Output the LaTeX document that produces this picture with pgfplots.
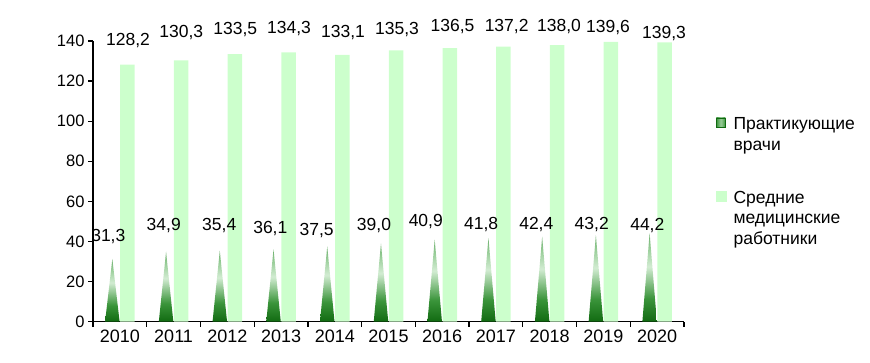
\documentclass[border=0pt]{standalone}
\usepackage{pgfplots}
\pgfplotsset{compat=1.18}
\usepackage{fontspec}
\setmainfont{Liberation Sans}
\definecolor{barg}{HTML}{CCFFCC}
\definecolor{tgA}{HTML}{116A11}
\definecolor{tgB}{HTML}{3A943A}
\definecolor{tgC}{HTML}{D2ECD2}
\definecolor{tgD}{HTML}{9CCF9C}
\definecolor{tgE}{HTML}{6AAE6A}
\pgfdeclareverticalshading{cone}{100bp}{color(0bp)=(tgA); color(25bp)=(tgA); color(38bp)=(tgB); color(56bp)=(tgC); color(66bp)=(tgD); color(75bp)=(tgE); color(100bp)=(tgE)}
\pgfdeclarehorizontalshading{legsq}{100bp}{color(0bp)=(tgB); color(25bp)=(tgB); color(50bp)=(tgD); color(75bp)=(tgB); color(100bp)=(tgB)}
\newcommand{\lf}{\fontsize{17.5bp}{21bp}\selectfont}
\newcommand{\legf}{\fontsize{17.5bp}{22bp}\selectfont}
\pgfplotstableread{
x y lab
0.151 137.7 128,2
1.143 141.8 130,3
2.148 143.0 133,5
3.148 143.6 134,3
4.153 141.8 133,1
5.158 143.0 135,3
6.191 144.6 136,5
7.199 144.6 137,2
8.173 144.6 138,0
9.085 144.3 139,6
10.127 141.3 139,3
}\barlabels
\pgfplotstableread{
x y lab
-0.215 39.9 31,3
0.816 45.7 34,9
1.849 45.7 35,4
2.800 44.1 36,1
3.663 42.9 37,5
4.730 45.7 39,0
5.694 47.4 40,9
6.725 46.1 41,8
7.751 46.1 42,4
8.783 46.1 43,2
9.817 45.7 44,2
}\trilabels
\begin{document}
\begin{tikzpicture}
\useasboundingbox (0,0) rectangle (870bp,363bp);
\begin{axis}[
  at={(93bp,41.3bp)}, anchor=south west,
  scale only axis, width=591bp, height=280.7bp,
  xmin=-0.5, xmax=10.5, ymin=0, ymax=140,
  clip=false,
  axis x line*=bottom, axis y line*=left,
  axis line style={-, line width=1.6bp, black},
  tick align=outside,
  major tick length=5bp, minor tick length=5bp,
  tick style={line width=1.3bp, black},
  xtick={0,...,10},
  xticklabels={2010,2011,2012,2013,2014,2015,2016,2017,2018,2019,2020},
  minor xtick={-0.5,0.5,...,10.5},
  major x tick style={draw=none},
  ytick={0,20,...,140},
  /pgf/number format/assume math mode=true,
  xticklabel style={font=\fontsize{18bp}{21bp}\selectfont},
  yticklabel style={font=\fontsize{16.5bp}{20bp}\selectfont},
  legend style={at={(1.0541,0.747)}, anchor=north west, draw=none, fill=none,
    inner sep=0pt, outer sep=0pt, column sep=5bp, row sep=0pt,
    font=\legf, cells={anchor=west, inner sep=0pt}},
]
% Средние медицинские работники (bars)
\addplot[ybar, fill=barg, draw=none, bar width=0.27, bar shift=0.14, forget plot]
  coordinates {(0,128.2) (1,130.3) (2,133.5) (3,134.3) (4,133.1) (5,135.3) (6,136.5) (7,137.2) (8,138.0) (9,139.6) (10,139.3)};
% Практикующие врачи (cones)
\addplot[draw=none, shade, shading=cone, forget plot] coordinates {(-0.275,0) (-0.14,31.3) (-0.005,0)} \closedcycle;
\addplot[draw=none, shade, shading=cone, forget plot] coordinates {(0.725,0) (0.86,34.9) (0.995,0)} \closedcycle;
\addplot[draw=none, shade, shading=cone, forget plot] coordinates {(1.725,0) (1.86,35.4) (1.995,0)} \closedcycle;
\addplot[draw=none, shade, shading=cone, forget plot] coordinates {(2.725,0) (2.86,36.1) (2.995,0)} \closedcycle;
\addplot[draw=none, shade, shading=cone, forget plot] coordinates {(3.725,0) (3.86,37.5) (3.995,0)} \closedcycle;
\addplot[draw=none, shade, shading=cone, forget plot] coordinates {(4.725,0) (4.86,39.0) (4.995,0)} \closedcycle;
\addplot[draw=none, shade, shading=cone, forget plot] coordinates {(5.725,0) (5.86,40.9) (5.995,0)} \closedcycle;
\addplot[draw=none, shade, shading=cone, forget plot] coordinates {(6.725,0) (6.86,41.8) (6.995,0)} \closedcycle;
\addplot[draw=none, shade, shading=cone, forget plot] coordinates {(7.725,0) (7.86,42.4) (7.995,0)} \closedcycle;
\addplot[draw=none, shade, shading=cone, forget plot] coordinates {(8.725,0) (8.86,43.2) (8.995,0)} \closedcycle;
\addplot[draw=none, shade, shading=cone, forget plot] coordinates {(9.725,0) (9.86,44.2) (9.995,0)} \closedcycle;
% value labels
\addplot[only marks, mark=none, forget plot, point meta=explicit symbolic,
  nodes near coords, nodes near coords style={anchor=base, font=\lf, inner sep=0pt, black}]
  table[x=x, y=y, meta=lab] {\barlabels};
\addplot[only marks, mark=none, forget plot, point meta=explicit symbolic,
  nodes near coords, nodes near coords style={anchor=base, font=\lf, inner sep=0pt, black}]
  table[x=x, y=y, meta=lab] {\trilabels};
% legend
\addlegendimage{legend image code/.code={\draw[draw=tgA, line width=0.8bp, shade, shading=legsq] (0bp,-4.5bp) rectangle (9bp,4.5bp);}}
\addlegendentry{\strut Практикующие}
\addlegendimage{empty legend}
\addlegendentry{\strut врачи}
\addlegendimage{empty legend}
\addlegendentry{\rule[-6.6bp]{0pt}{33bp}}
\addlegendimage{legend image code/.code={\fill[barg] (0bp,-5bp) rectangle (10bp,5bp);}}
\addlegendentry{\strut Средние}
\addlegendimage{empty legend}
\addlegendentry{\strut медицинские}
\addlegendimage{empty legend}
\addlegendentry{\strut работники}
\end{axis}
\end{tikzpicture}
\end{document}
